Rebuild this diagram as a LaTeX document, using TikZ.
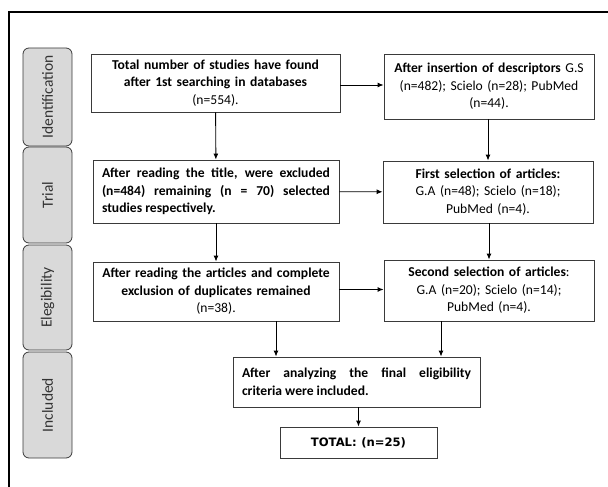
\documentclass[tikz,border=0pt]{standalone}
\usepackage{fontspec}
\setmainfont{Carlito}
\newfontfamily\totalfont{DejaVu Sans}
\usepackage{tikz}
\usetikzlibrary{arrows.meta, positioning}
\usepackage{xcolor}
\definecolor{StageGray}{HTML}{D9D9D9}
\definecolor{EdgeGray}{HTML}{3A3A3A}

\begin{document}
\begin{tikzpicture}[
            x=1pt, y=-1pt,
            font=\fontsize{13.6}{17.5}\selectfont,
            line/.style={draw, line width=0.9pt, -{Latex[length=6pt,width=5pt]}},
            box/.style={
                rectangle, draw=EdgeGray, line width=0.9pt, fill=white,
                inner xsep=9pt, inner ysep=1pt, align=center
            },
            justbox/.style={box, align=justify},
            stage/.style={
                rectangle, rounded corners=6pt,
                draw=EdgeGray, line width=0.8pt, fill=StageGray,
                rotate=90, inner sep=0pt, minimum height=49pt,
                font=\fontsize{15.5}{17}\selectfont, text=black!80
            },
            frameline/.style={draw, line width=2.5pt}
        ]
        \useasboundingbox (0,0) rectangle (608,487);

        % --- Outer frame (cut by the page) ---
        \path[frameline] (9,495) -- (9,12) -- (615,12);

        % --- Stage labels ---
        \node[stage, minimum width=98pt] (ident) at (47.5,97) {Identification};
        \node[stage, minimum width=96pt] (trial) at (47.5,195) {Trial};
        \node[stage, minimum width=105pt] (elig) at (47.5,297.5) {Elegibility};
        \node[stage, minimum width=106pt] (incl) at (47.5,405) {Included};

        % --- Left column ---
        \node[box, text width=231pt, minimum height=58pt] (found) at (215.5,83)
            {\textbf{Total number of studies have found}\\\textbf{after 1st searching in databases}\\(n=554).};
        \node[justbox, text width=228pt, minimum height=63pt] (title) at (216,191.5)
            {\textbf{After reading the title, were excluded\linebreak (n=484) remaining (n = 70) selected\linebreak studies respectively.}};
        \node[box, text width=228pt, minimum height=59pt] (dupl) at (216,291.5)
            {\textbf{After reading the articles and complete}\\\textbf{exclusion of duplicates remained}\\(n=38).};

        % --- Right column ---
        \node[box, text width=192pt, minimum height=65pt] (descr) at (489,86.5)
            {\textbf{After insertion of descriptors} G.S\\(n=482); Scielo (n=28); PubMed\\(n=44).};
        \node[box, text width=192pt, minimum height=62pt] (firstsel) at (488,192)
            {\textbf{First selection of articles:}\\G.A (n=48); Scielo (n=18);\\PubMed (n=4).};
        \node[box, text width=192pt, minimum height=61pt] (secsel) at (489,290.5)
            {\textbf{Second selection of articles}:\\G.A (n=20); Scielo (n=14);\\PubMed (n=4).};

        % --- Bottom ---
        \node[justbox, text width=229pt, minimum height=50pt] (final) at (356.5,382)
            {\textbf{After analyzing the final eligibility\linebreak criteria were included.}};
        \node[box, text width=139pt, minimum height=31pt] (total) at (358.5,442.5)
            {\totalfont\bfseries\fontsize{11.6}{13}\selectfont TOTAL: (n=25)};

        % --- Flows ---
        \path[line] ([yshift=-2pt]found.east) -- ([yshift=-2pt]found.east -| descr.west);
        \path[line] (found) -- (title);
        \path[line] (descr.south -| firstsel.north) -- (firstsel.north);
        \path[line] (title) -- (firstsel);
        \path[line] (title) -- (dupl);
        \path[line] (firstsel.south -| secsel.north) -- (secsel.north);
        \path[line] ([yshift=2pt]dupl.east) -- ([yshift=2pt]dupl.east -| secsel.west);

        \path[line] ([xshift=60pt]dupl.south) -- ([xshift=60pt]dupl.south |- final.north);
        \path[line] ([xshift=-48pt]secsel.south) -- ([xshift=-48pt]secsel.south |- final.north);
        \path[line] (total.north |- final.south) -- (total.north);

        \end{tikzpicture}
\end{document}
